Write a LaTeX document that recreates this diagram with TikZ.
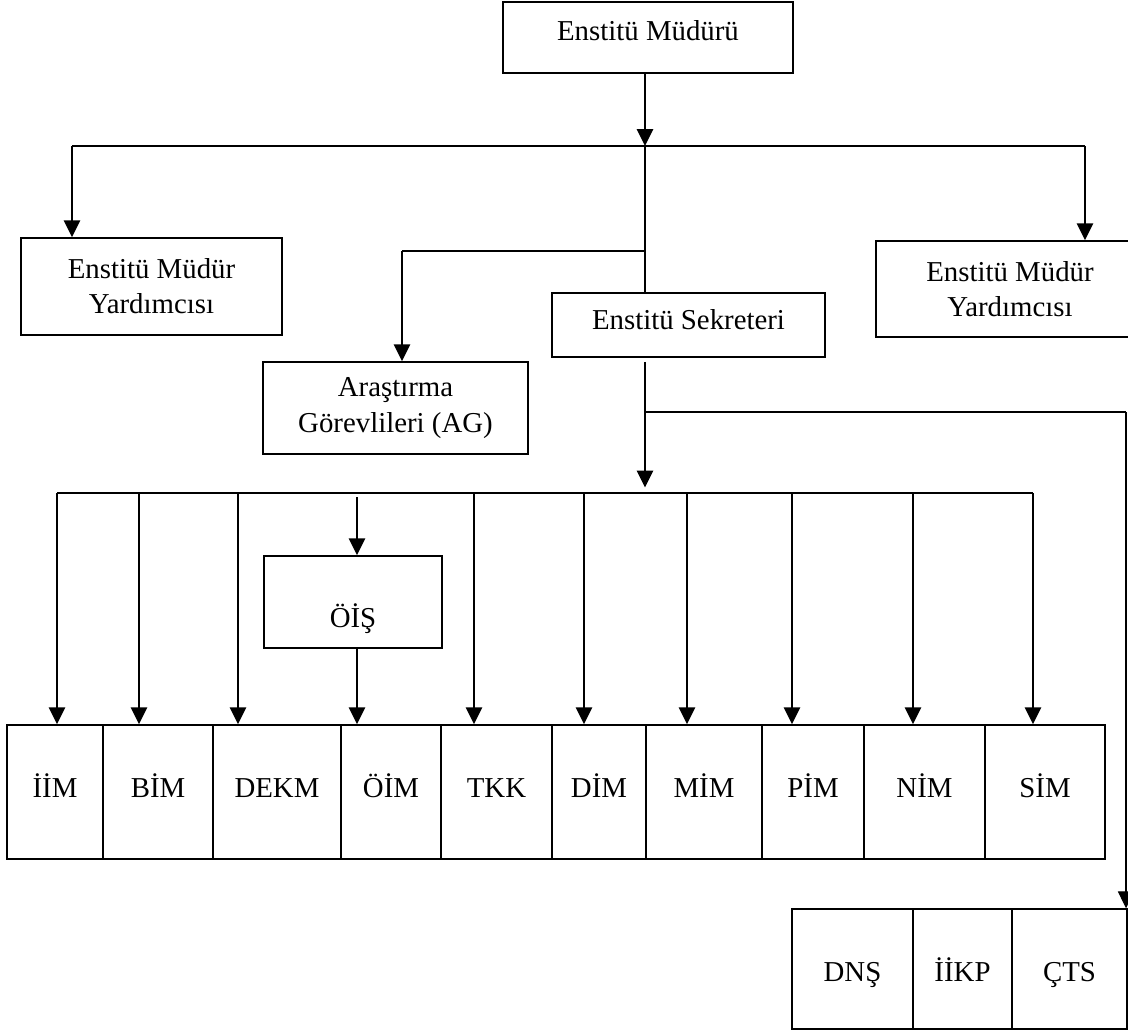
\documentclass[tikz,border=0pt]{standalone}
\usepackage{fontspec}
\setmainfont{Liberation Serif}
\usetikzlibrary{arrows.meta}

\tikzset{
  box/.style={draw, line width=1pt, inner sep=0pt, align=center,
              font=\fontsize{20.5}{25}\selectfont},
  unit/.style={box, minimum height=3.35cm, text height=14pt, text depth=6.8pt},
  subunit/.style={box, minimum height=3cm, text height=17.8pt, text depth=0pt},
  arr/.style={-{Triangle[width=11.5pt,length=12pt]}, line width=1.6pt},
  bus/.style={line width=1.1pt},
}

\begin{document}
\begin{tikzpicture}[x=0.025cm, y=-0.025cm]
      \useasboundingbox (0,0) rectangle (1128,1034);

      \node[box, minimum width=7.25cm,  minimum height=1.775cm, text height=14pt, text depth=9.6pt]
          (mud)  at (648, 37.5)  {Enstitü Müdürü};
      \node[box, minimum width=6.525cm, minimum height=2.425cm] (emyL) at (151.5, 286.5) {Enstitü Müdür\\Yardımcısı};
      \node[box, minimum width=6.7cm,   minimum height=2.4cm]   (emyR) at (1010, 289)    {Enstitü Müdür\\Yardımcısı};
      \node[box, minimum width=6.825cm, minimum height=1.6cm, text height=14pt, text depth=7pt]
          (sek)  at (688.5, 325) {Enstitü Sekreteri};
      \node[box, minimum width=6.625cm, minimum height=2.3cm]   (ag)   at (395.5, 408)   {Araştırma\\Görevlileri (AG)};
      \node[box, minimum width=4.45cm,  minimum height=2.3cm, text height=36.4pt, text depth=0pt]
          (ois)  at (353, 602)   {ÖİŞ};

      % birimler
      \node[unit, minimum width=2.4cm]   (iim)  at (55, 792)    {İİM};
      \node[unit, minimum width=2.75cm]  (bim)  at (158, 792)   {BİM};
      \node[unit, minimum width=3.2cm]   (dekm) at (277, 792)   {DEKM};
      \node[unit, minimum width=2.5cm]   (oim)  at (391, 792)   {ÖİM};
      \node[unit, minimum width=2.775cm] (tkk)  at (496.5, 792) {TKK};
      \node[unit, minimum width=2.35cm]  (dim)  at (599, 792)   {DİM};
      \node[unit, minimum width=2.9cm]   (mim)  at (704, 792)   {MİM};
      \node[unit, minimum width=2.55cm]  (pim)  at (813, 792)   {PİM};
      \node[unit, minimum width=3.025cm] (nim)  at (924.5, 792) {NİM};
      \node[unit, minimum width=3cm]     (sim)  at (1045, 792)  {SİM};

      \node[subunit, minimum width=3.025cm] (dns)  at (852.5, 969)  {DNŞ};
      \node[subunit, minimum width=2.475cm] (iikp) at (962.5, 969)  {İİKP};
      \node[subunit, minimum width=2.875cm] (cts)  at (1069.5, 969) {ÇTS};

      % bus points
      \coordinate (top)  at (645, 146);
      \coordinate (topL) at (72, 146);
      \coordinate (topR) at (1085, 146);
      \coordinate (agJ)  at (645, 251);
      \coordinate (agC)  at (402, 251);
      \coordinate (secJ) at (645, 412);
      \coordinate (secC) at (1126, 412);
      \coordinate (low)  at (645, 493);
      \coordinate (lowL) at (57, 493);
      \coordinate (lowR) at (1033, 493);
      \coordinate (oisT) at (357, 497);

      \draw[arr] (mud.south -| top) -- (top);
      \draw[bus] (topL) -- (topR);
      \draw[arr] (topL) -- (emyL.north -| topL);
      \draw[arr] (topR) -- (emyR.north -| topR);
      \draw[line width=1.6pt] (top) -- (sek.north -| top);
      \draw[bus] (agJ) -- (agC);
      \draw[arr] (agC) -- (ag.north -| agC);

      \draw[arr, shorten >=4pt] ([yshift=-3pt]sek.south -| low) -- (low);
      \draw[bus] (secJ) -- (secC);
      \draw[-{Triangle[width=11.5pt,length=12pt]}, line width=0.8pt] (secC) -- (cts.north -| secC);

      \draw[bus] (lowL) -- (lowR);
      \foreach \x/\n in {57/iim, 139/bim, 238/dekm, 474/tkk, 584/dim, 687/mim, 792/pim, 913/nim, 1033/sim}
        \draw[arr] (\x, 493) coordinate (d\n) -- (d\n |- \n.north);
      \draw[arr] (oisT) -- (ois.north -| oisT);
      \draw[arr] (ois.south -| oisT) -- (oim.north -| oisT);
    \end{tikzpicture}
\end{document}
